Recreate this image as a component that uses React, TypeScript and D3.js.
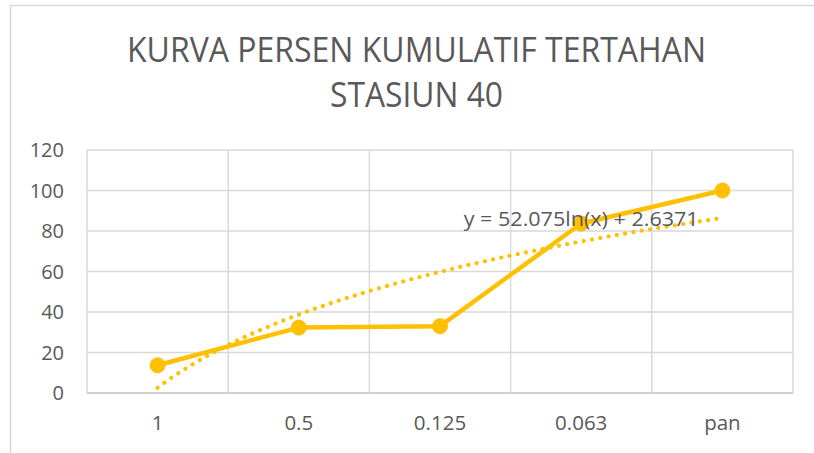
import React from "react";
import * as d3 from "d3";

const categories = ["1", "0.5", "0.125", "0.063", "pan"];
const values = [13.7, 32.3, 33.0, 83.7, 100];
const yTicks = [0, 20, 40, 60, 80, 100, 120];
const titleLines = ["KURVA PERSEN KUMULATIF TERTAHAN", "STASIUN 40"];
const trendSlope = 52.075;
const trendIntercept = 2.6371;
const trendLabel = "y = 52.075ln(x) + 2.6371";

const W = 814;
const H = 453;
const plot = { left: 87, right: 793, top: 150, bottom: 393 };
const COLOR = "#FFC000";
const GRID = "#d9d9d9";
const TEXT = "#595959";
const FONT = "'Open Sans', 'Liberation Sans', sans-serif";

export default function App() {
  const x = d3.scaleBand<string>().domain(categories).range([plot.left, plot.right]).padding(0);
  const cx = (c: string) => (x(c) as number) + x.bandwidth() / 2;
  const y = d3.scaleLinear().domain([0, 120]).range([plot.bottom, plot.top]);
  // continuous index scale for trendline (x = 1..n)
  const xi = d3.scaleLinear().domain([1, categories.length]).range([cx(categories[0]), cx(categories[categories.length - 1])]);

  const data = categories.map((c, i) => ({ c, v: values[i] }));
  const line = d3.line<{ c: string; v: number }>().x((d) => cx(d.c)).y((d) => y(d.v));

  const trendPts: [number, number][] = [];
  const n = 200;
  for (let k = 0; k <= n; k++) {
    const t = 1 + ((categories.length - 1) * k) / n;
    trendPts.push([xi(t), y(trendSlope * Math.log(t) + trendIntercept)]);
  }
  const trendPath = d3.line()(trendPts) as string;

  const boundaries = categories.map((c) => x(c) as number).concat([plot.right]);

  return (
    <svg width={W} height={H} style={{ position: "absolute", left: 0, top: 0, background: "#fff" }}>
      <rect x={0} y={0} width={W} height={H} fill="#fff" />
      <rect x={10.5} y={5.5} width={W + 20} height={H + 20} fill="#fff" stroke={GRID} strokeWidth={1.5} />

      {/* title */}
      <text x={416.5} y={62} textAnchor="middle" fontFamily={FONT} fontSize={35} fill={TEXT}
        textLength={579} lengthAdjust="spacingAndGlyphs">{titleLines[0]}</text>
      <text x={416.5} y={107} textAnchor="middle" fontFamily={FONT} fontSize={35} fill={TEXT}
        textLength={173} lengthAdjust="spacingAndGlyphs">{titleLines[1]}</text>

      {/* horizontal gridlines */}
      {yTicks.map((t) => (
        <line key={"h" + t} x1={plot.left} x2={plot.right} y1={y(t)} y2={y(t)}
          stroke={t === 0 ? "#bfbfbf" : GRID} strokeWidth={1.5} />
      ))}
      {/* vertical gridlines */}
      {boundaries.map((b, i) => (
        <line key={"v" + i} x1={b} x2={b} y1={plot.top} y2={plot.bottom} stroke={GRID} strokeWidth={1.5} />
      ))}

      {/* y tick labels */}
      {yTicks.map((t) => (
        <text key={"yl" + t} x={64} y={y(t)} dy="0.36em" textAnchor="end" fontFamily={FONT} fontSize={20} fill={TEXT}>
          {t}
        </text>
      ))}
      {/* x tick labels */}
      {categories.map((c) => (
        <text key={"xl" + c} x={cx(c)} y={430} textAnchor="middle" fontFamily={FONT} fontSize={20.5} fill={TEXT}>
          {c}
        </text>
      ))}

      {/* trendline */}
      <path d={trendPath} fill="none" stroke={COLOR} strokeWidth={4.2} strokeDasharray="0.01 8.4" strokeLinecap="round" />

      {/* series */}
      <path d={line(data) as string} fill="none" stroke={COLOR} strokeWidth={4.5} strokeLinejoin="round" />
      {data.map((d) => (
        <circle key={"p" + d.c} cx={cx(d.c)} cy={y(d.v)} r={7.5} fill={COLOR} stroke={COLOR} strokeWidth={1} />
      ))}

      {/* trend label */}
      <text x={cx(categories[3])} y={226} textAnchor="middle" fontFamily={FONT} fontSize={20.5} fill={TEXT}
        textLength={235} lengthAdjust="spacingAndGlyphs">
        {trendLabel}
      </text>
    </svg>
  );
}
